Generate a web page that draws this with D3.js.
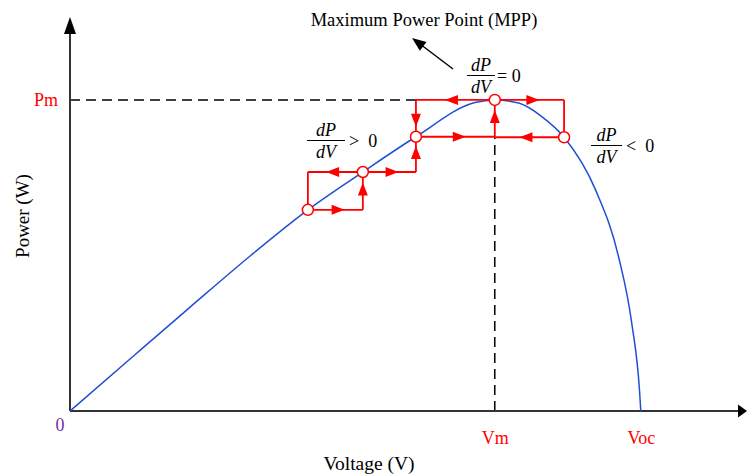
<!DOCTYPE html>
<html>
<head>
<meta charset="utf-8">
<script src="https://cdn.jsdelivr.net/npm/d3@7"></script>
<style>
  html, body { margin: 0; padding: 0; background: #fff; }
  svg { display: block; font-family: "Liberation Serif", "DejaVu Serif", serif; }
  text { white-space: pre; }
</style>
</head>
<body>
<svg id="chart" width="747" height="476"></svg>
<script>
// P–V curve of a PV module (volts, watts)
const curveV = [0, 2.5, 4.47, 6.83, 8.96, 11.03, 13.03, 15.25, 16.0, 16.9, 17.77, 18.61, 19.8, 20.66, 21.16, 21.45, 21.5];
const curveP = [0, 11.1, 19.8, 30.1, 38.8, 46.1, 52.9, 59.5, 60.0, 59.4, 56.8, 52.8, 42.6, 29.8, 16.9, 4.05, 0];

// Perturb & observe operating points
const opV = [8.96, 11.03, 13.03, 16.0, 18.61];
const opP = [38.8, 46.1, 52.9, 60.0, 52.8];

// Axis marks and labels
const Vm = 16.0, Voc = 21.5, Pm = 60.0;
const xTickValues = [Vm, Voc];
const xTickLabels = ["Vm", "Voc"];
const yTickValues = [Pm];
const yTickLabels = ["Pm"];
const vMax = 25.5, pMax = 76;

const svg = d3.select("#chart");
const x = d3.scaleLinear().domain([0, vMax]).range([70, 747]);
const y = d3.scaleLinear().domain([0, pMax]).range([411, 17]);

const RED = "#ff0000", BLUE = "#1f4fd6", AXIS = "#333";

// filled triangle pointing from (x1,y1) toward (x2,y2), centred at fraction t
function arrowHead(g, x1, y1, x2, y2, t, len, hw, color) {
  const dx = x2 - x1, dy = y2 - y1, L = Math.hypot(dx, dy);
  const ux = dx / L, uy = dy / L;
  const cx = x1 + dx * t, cy = y1 + dy * t;
  const tipX = cx + ux * len / 2, tipY = cy + uy * len / 2;
  const bx = cx - ux * len / 2, by = cy - uy * len / 2;
  g.append("path")
    .attr("d", `M${tipX},${tipY}L${bx - uy * hw},${by + ux * hw}L${bx + uy * hw},${by - ux * hw}Z`)
    .attr("fill", color);
}

// Axes (labels only; the lines are drawn with arrowheads below)
const xAxis = d3.axisBottom(x).tickValues(xTickValues)
  .tickFormat((d, i) => xTickLabels[i]).tickSize(0).tickPadding(20);
const gx = svg.append("g").attr("transform", `translate(0,${y(0)})`).call(xAxis);
gx.select(".domain").remove();
gx.selectAll("text").attr("fill", RED).style("font-size", "18px")
  .style("font-family", "Liberation Serif");

const yAxis = d3.axisLeft(y).tickValues(yTickValues)
  .tickFormat((d, i) => yTickLabels[i]).tickSize(0).tickPadding(12);
const gy = svg.append("g").attr("transform", `translate(${x(0)},0)`).call(yAxis);
gy.select(".domain").remove();
gy.selectAll("text").attr("fill", RED).style("font-size", "18px")
  .style("font-family", "Liberation Serif");

// guide lines to the maximum power point
svg.append("line")
  .attr("x1", x(0)).attr("y1", y(Pm)).attr("x2", x(opV[2])).attr("y2", y(Pm))
  .attr("stroke", "#000").attr("stroke-width", 1.5).attr("stroke-dasharray", "10,6");
svg.append("line")
  .attr("x1", x(Vm)).attr("y1", y(0)).attr("x2", x(Vm)).attr("y2", y(opP[4]))
  .attr("stroke", "#000").attr("stroke-width", 1.5).attr("stroke-dasharray", "10,6");

// axis lines with arrowheads
svg.append("line").attr("x1", x(0)).attr("y1", y(0)).attr("x2", x(0)).attr("y2", y(pMax) + 14)
  .attr("stroke", AXIS).attr("stroke-width", 2);
svg.append("line").attr("x1", x(0)).attr("y1", y(0)).attr("x2", x(vMax) - 8).attr("y2", y(0))
  .attr("stroke", AXIS).attr("stroke-width", 2);
const axArrows = svg.append("g");
arrowHead(axArrows, x(0), y(0), x(0), y(pMax), 1 - 8.5 / (y(0) - y(pMax)), 17, 6, "#000");
arrowHead(axArrows, x(0), y(0), x(vMax), y(0), 1 - 4.5 / (x(vMax) - x(0)), 9, 6.5, "#000");

// P–V curve
const pts = curveV.map((v, i) => [v, curveP[i]]);
svg.append("path").datum(pts)
  .attr("d", d3.line().x(d => x(d[0])).y(d => y(d[1])).curve(d3.curveMonotoneX))
  .attr("fill", "none").attr("stroke", BLUE).attr("stroke-width", 1.5);

// hill-climbing steps between operating points
const steps = svg.append("g");
function seg(a, b, arrowDir) {
  const x1 = x(a[0]), y1 = y(a[1]), x2 = x(b[0]), y2 = y(b[1]);
  steps.append("line").attr("x1", x1).attr("y1", y1).attr("x2", x2).attr("y2", y2)
    .attr("stroke", RED).attr("stroke-width", 1.8);
  if (arrowDir) arrowHead(steps, x1, y1, x2, y2, 0.55, 13, 5, RED);
}
const P = i => [opV[i], opP[i]];
// rising side
seg(P(0), [opV[1], opP[0]], true);
seg([opV[1], opP[0]], P(1), true);
seg(P(1), [opV[0], opP[1]], true);
seg([opV[0], opP[1]], P(0), false);
seg(P(1), [opV[2], opP[1]], true);
seg([opV[2], opP[1]], P(2), true);
seg(P(2), [opV[3], opP[2]], true);
seg([opV[3], opP[2]], P(3), true);
// falling side
seg(P(4), [opV[3], opP[4]], true);
seg(P(3), [opV[2], opP[3]], true);
seg([opV[2], opP[3]], P(2), true);
seg(P(3), [opV[4], opP[3]], true);
seg([opV[4], opP[3]], P(4), false);

steps.selectAll("circle").data(opV).join("circle")
  .attr("cx", (d) => x(d)).attr("cy", (d, i) => y(opP[i])).attr("r", 5.5)
  .attr("fill", "#fff").attr("stroke", RED).attr("stroke-width", 1.5);

// origin label
svg.append("text").attr("x", x(0) - 10).attr("y", y(0) + 20)
  .attr("text-anchor", "middle").attr("fill", "#7030a0").style("font-size", "18px").text("0");

// axis titles
svg.append("text").attr("x", 369).attr("y", 470).attr("text-anchor", "middle")
  .style("font-size", "19.5px").text("Voltage (V)");
svg.append("text").attr("transform", "translate(29,216) rotate(-90)").attr("text-anchor", "middle")
  .style("font-size", "19px").text("Power (W)");

// MPP annotation
svg.append("text").attr("x", 424).attr("y", 26).attr("text-anchor", "middle")
  .style("font-size", "18.5px").text("Maximum Power Point (MPP)");
svg.append("line").attr("x1", 453).attr("y1", 69).attr("x2", 422).attr("y2", 45.5)
  .attr("stroke", "#000").attr("stroke-width", 1.5);
arrowHead(svg, 453, 69, 412, 38, 1 - 7 / Math.hypot(41, 31), 14, 5.5, "#000");

// dP/dV fractions
function fraction(cx, barY, barW, rel, relX) {
  const g = svg.append("g").style("font-size", "18px");
  g.append("text").attr("x", cx).attr("y", barY - 5).attr("text-anchor", "middle")
    .style("font-style", "italic").text("dP");
  g.append("line").attr("x1", cx - barW / 2).attr("x2", cx + barW / 2)
    .attr("y1", barY).attr("y2", barY).attr("stroke", "#000").attr("stroke-width", 1);
  g.append("text").attr("x", cx).attr("y", barY + 17).attr("text-anchor", "middle")
    .style("font-style", "italic").text("dV");
  g.append("text").attr("x", relX).attr("y", barY + 6).text(rel);
}
fraction(481, 75.5, 28, "= 0", 497);
fraction(326, 140.5, 38, ">  0", 349);
fraction(606.5, 145.5, 31, "<  0", 626);
</script>
</body>
</html>
